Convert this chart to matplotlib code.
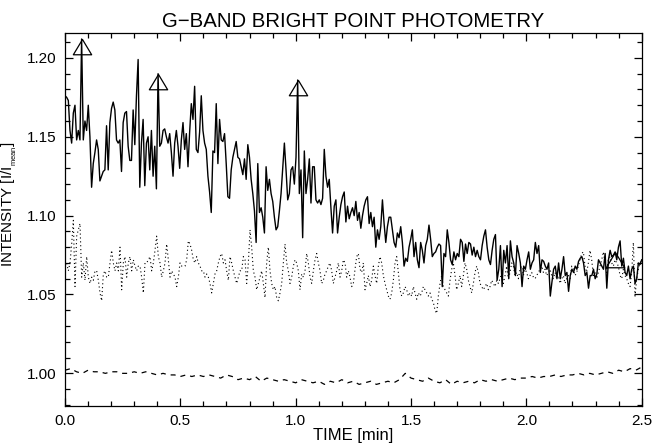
import numpy as np
import matplotlib
matplotlib.use("Agg")
import matplotlib.pyplot as plt
from matplotlib.path import Path

# bright point intensity (solid), reference area (dotted), mean (dashed)
bp_intensity = [
    1.176, 1.175, 1.173, 1.154, 1.146, 1.165, 1.170, 1.148, 1.154, 1.148,
    1.212, 1.148, 1.160, 1.154, 1.170, 1.150, 1.118, 1.133, 1.140, 1.148,
    1.142, 1.122, 1.125, 1.128, 1.129, 1.157, 1.129, 1.159, 1.168, 1.172,
    1.167, 1.148, 1.146, 1.148, 1.128, 1.159, 1.165, 1.166, 1.144, 1.135,
    1.135, 1.167, 1.145, 1.176, 1.199, 1.118, 1.146, 1.161, 1.119, 1.146,
    1.150, 1.129, 1.154, 1.125, 1.144, 1.117, 1.190, 1.144, 1.146, 1.154,
    1.155, 1.150, 1.146, 1.152, 1.140, 1.125, 1.146, 1.154, 1.144, 1.130,
    1.148, 1.159, 1.142, 1.152, 1.131, 1.153, 1.171, 1.161, 1.182, 1.142,
    1.140, 1.153, 1.176, 1.154, 1.146,
    1.142, 1.125, 1.115, 1.102, 1.141, 1.140, 1.171, 1.133, 1.161, 1.148,
    1.147, 1.152, 1.133, 1.112, 1.111, 1.129, 1.137, 1.142, 1.147, 1.137,
    1.136, 1.131, 1.126, 1.136, 1.123, 1.145, 1.137, 1.123, 1.114, 1.103,
    1.083, 1.133, 1.102, 1.105, 1.099, 1.089, 1.131, 1.116, 1.123, 1.114,
    1.109, 1.099, 1.091, 1.093, 1.103, 1.114, 1.130, 1.146, 1.129, 1.110,
    1.114, 1.129, 1.131, 1.120, 1.137, 1.186, 1.114, 1.129, 1.086, 1.141,
    1.114, 1.123, 1.136, 1.108, 1.131, 1.131, 1.110, 1.108, 1.110, 1.107,
    1.111, 1.142, 1.125, 1.118, 1.123, 1.105, 1.089, 1.106, 1.110, 1.089,
    1.099, 1.107, 1.112, 1.115, 1.096, 1.106, 1.098, 1.102, 1.105,
    1.100, 1.109, 1.097, 1.102, 1.092, 1.100, 1.106, 1.110, 1.112, 1.095,
    1.102, 1.093, 1.099, 1.080, 1.091, 1.085, 1.093, 1.110, 1.095, 1.083,
    1.093, 1.099, 1.099, 1.091, 1.083, 1.080, 1.089, 1.086, 1.093, 1.083,
    1.068, 1.073, 1.071, 1.080, 1.085, 1.091, 1.074, 1.083, 1.072, 1.067,
    1.083, 1.078, 1.070, 1.081, 1.085, 1.094, 1.085, 1.074, 1.076, 1.077,
    1.080, 1.082, 1.081, 1.055, 1.076, 1.074, 1.091, 1.083, 1.072, 1.069,
    1.077, 1.072, 1.076, 1.074, 1.085, 1.083, 1.071, 1.082, 1.076, 1.083,
    1.082, 1.075, 1.080, 1.074, 1.078, 1.074, 1.072, 1.081, 1.087, 1.091,
    1.080, 1.072, 1.069, 1.078, 1.085, 1.088, 1.059, 1.066,
    1.081, 1.055, 1.078, 1.070, 1.081, 1.060, 1.084, 1.074, 1.070, 1.062,
    1.081, 1.076, 1.070, 1.055, 1.068, 1.066, 1.072, 1.077, 1.066, 1.070,
    1.072, 1.083, 1.076, 1.081, 1.064, 1.072, 1.071, 1.068, 1.066, 1.070,
    1.049, 1.058, 1.066, 1.068, 1.060, 1.070, 1.060, 1.066, 1.074, 1.062,
    1.064, 1.052, 1.062, 1.066, 1.064, 1.068, 1.066, 1.071, 1.073, 1.074,
    1.070, 1.062, 1.064, 1.054, 1.062, 1.062, 1.066, 1.060, 1.063, 1.072,
    1.070, 1.068, 1.066, 1.076, 1.054, 1.072, 1.078, 1.074, 1.075, 1.077,
    1.072, 1.080, 1.084, 1.068, 1.073, 1.064, 1.062, 1.068, 1.060, 1.066,
    1.068, 1.057, 1.060, 1.070, 1.069, 1.072,
]

ref_intensity = [
    1.072, 1.070, 1.065, 1.070, 1.082, 1.097, 1.055, 1.087, 1.091, 1.095,
    1.061, 1.070, 1.059, 1.074, 1.061, 1.057, 1.061, 1.059, 1.065, 1.065,
    1.059, 1.051, 1.046, 1.063, 1.065, 1.061, 1.061, 1.070, 1.078, 1.070,
    1.065, 1.070, 1.065, 1.080, 1.053, 1.070, 1.074, 1.061, 1.070, 1.074,
    1.065, 1.072, 1.068, 1.065, 1.068, 1.068, 1.061, 1.051, 1.070, 1.070,
    1.072, 1.074, 1.065, 1.070, 1.078, 1.087, 1.074, 1.070, 1.061, 1.065,
    1.070, 1.082, 1.072, 1.061, 1.065, 1.063, 1.061, 1.055, 1.061, 1.070,
    1.068, 1.068, 1.068, 1.072, 1.084, 1.082, 1.078, 1.072, 1.070, 1.074,
    1.070, 1.068, 1.065, 1.065, 1.061, 1.063,
    1.061, 1.057, 1.051, 1.057, 1.063, 1.065, 1.070, 1.074, 1.076, 1.070,
    1.072, 1.065, 1.059, 1.074, 1.070, 1.065, 1.061, 1.057, 1.061, 1.065,
    1.065, 1.074, 1.072, 1.057, 1.070, 1.091, 1.080, 1.065, 1.061, 1.053,
    1.057, 1.061, 1.065, 1.057, 1.048, 1.070, 1.080, 1.065, 1.057, 1.053,
    1.055, 1.048, 1.046, 1.051, 1.057, 1.070, 1.082, 1.070, 1.065, 1.057,
    1.061, 1.068, 1.072, 1.070, 1.065, 1.053, 1.063, 1.061, 1.065, 1.076,
    1.070, 1.061, 1.057, 1.065, 1.072, 1.076, 1.070, 1.065, 1.057, 1.059,
    1.063, 1.065, 1.068, 1.070, 1.065, 1.057, 1.061, 1.065, 1.070, 1.061,
    1.065, 1.072, 1.070, 1.061, 1.065, 1.061, 1.055,
    1.057, 1.066, 1.074, 1.076, 1.066, 1.064, 1.070, 1.053, 1.057, 1.062,
    1.055, 1.059, 1.068, 1.062, 1.057, 1.068, 1.074, 1.070, 1.062, 1.057,
    1.053, 1.049, 1.047, 1.051, 1.059, 1.070, 1.074, 1.064, 1.053, 1.049,
    1.051, 1.055, 1.053, 1.049, 1.051, 1.049, 1.055, 1.051, 1.047, 1.051,
    1.049, 1.051, 1.055, 1.053, 1.051, 1.049, 1.051, 1.047, 1.045, 1.040,
    1.038, 1.049, 1.057, 1.062, 1.055, 1.053, 1.051, 1.049, 1.059, 1.066,
    1.070, 1.062, 1.053, 1.057, 1.062, 1.055, 1.062, 1.070, 1.066, 1.059,
    1.055, 1.051, 1.057, 1.064, 1.068, 1.064, 1.057, 1.055, 1.053, 1.055,
    1.057, 1.053, 1.055, 1.059, 1.057, 1.055, 1.059, 1.057,
    1.060, 1.064, 1.057, 1.062, 1.068, 1.060, 1.064, 1.070, 1.068, 1.062,
    1.064, 1.060, 1.066, 1.068, 1.062, 1.066, 1.064, 1.060, 1.062, 1.064,
    1.061, 1.060, 1.062, 1.064, 1.066, 1.068, 1.064, 1.066, 1.062, 1.064,
    1.066, 1.062, 1.060, 1.064, 1.060, 1.062, 1.057, 1.060, 1.062, 1.057,
    1.060, 1.062, 1.060, 1.068, 1.066, 1.062, 1.064, 1.068, 1.072, 1.076,
    1.077, 1.068, 1.064, 1.070, 1.078, 1.072, 1.062, 1.064, 1.060, 1.064,
    1.068, 1.072, 1.077, 1.070, 1.064, 1.072, 1.074, 1.070, 1.068, 1.072,
    1.070, 1.068, 1.062, 1.060, 1.066, 1.062, 1.060, 1.057, 1.055, 1.064,
    1.083, 1.049, 1.060, 1.066, 1.070, 1.072,
]

mean_intensity = [
    1.002, 1.003, 1.001, 1.000, 1.002, 1.001, 1.001, 1.000, 1.001, 1.001,
    1.000, 1.000, 1.001, 1.000, 1.001, 1.000, 0.999, 1.000, 0.999, 0.999,
    0.998, 0.999, 0.998, 0.999, 0.998, 0.999, 0.998, 0.997, 0.999, 0.998,
    0.996, 0.997, 0.996, 0.998, 0.995, 0.997, 0.996, 0.995, 0.996, 0.995,
    0.994, 0.996, 0.995, 0.994, 0.995, 0.993, 0.995, 0.994, 0.996, 0.994,
    0.995, 0.993, 0.994, 0.995, 0.993, 0.994, 0.995, 0.994, 0.996, 1.000,
    0.997, 0.996, 0.995, 0.997, 0.995, 0.994, 0.996, 0.993, 0.995, 0.994,
    0.995, 0.994, 0.996, 0.995, 0.996, 0.995, 0.996, 0.997, 0.996, 0.997,
    0.997, 0.998, 0.997, 0.998, 0.998, 0.999, 0.998, 0.999, 0.999, 1.000,
    0.999, 1.000, 0.999, 1.000, 1.001, 1.000, 1.002, 1.001, 1.003, 1.002,
    1.004,
]

# approximate times of the marked intensity peaks [min]
peak_times = [0.072, 0.405, 1.01, 2.385]

t_bp = np.linspace(0, 2.5, len(bp_intensity))
t_ref = np.linspace(0, 2.5, len(ref_intensity))
t_mean = np.linspace(0, 2.5, len(mean_intensity))
bp = np.array(bp_intensity)

peak_idx = []
for tp in peak_times:
    win = np.where(np.abs(t_bp - tp) < 0.01)[0]
    peak_idx.append(win[np.argmax(bp[win])])

plt.rcParams['font.family'] = ['Liberation Sans', 'DejaVu Sans']
plt.rcParams['mathtext.fontset'] = 'custom'
plt.rcParams['mathtext.rm'] = 'Liberation Sans'

fig = plt.figure(figsize=(6.56, 4.46), dpi=100)
ax = fig.add_axes([65 / 656, 1 - 406 / 446, 576.7 / 656, 373 / 446])

ax.plot(t_bp, bp_intensity, color='black', lw=1.0)
ax.plot(t_ref, ref_intensity, color='black', lw=0.8, linestyle=(0, (1, 2.5)))
ax.plot(t_mean, mean_intensity, color='black', lw=0.9, linestyle=(0, (4, 4)))

# open triangle with its apex on the data point
tri = Path([(-0.6, -1.0), (0.6, -1.0), (0.0, 0.0), (-0.6, -1.0)],
           [Path.MOVETO, Path.LINETO, Path.LINETO, Path.CLOSEPOLY])
ax.plot(t_bp[peak_idx], bp[peak_idx], linestyle='none', marker=tri,
        markersize=22, markerfacecolor='none', markeredgecolor='black',
        markeredgewidth=0.9)

ax.set_xlim(0, 2.5)
ax.set_ylim(0.9793, 1.2158)
ax.set_xticks(np.arange(0, 2.51, 0.5))
ax.set_xticks(np.arange(0, 2.51, 0.1), minor=True)
ax.set_yticks(np.arange(1.0, 1.201, 0.05))
ax.set_yticks(np.arange(0.98, 1.216, 0.01), minor=True)
ax.xaxis.set_major_formatter(matplotlib.ticker.FormatStrFormatter('%.1f'))
ax.yaxis.set_major_formatter(matplotlib.ticker.FormatStrFormatter('%.2f'))
ax.tick_params(which='both', direction='in', top=True, right=True, width=0.9,
               labelsize=11, pad=6)
ax.tick_params(which='major', length=6)
ax.tick_params(which='minor', length=3.5)
for sp in ax.spines.values():
    sp.set_linewidth(0.9)

ax.set_title('G\u2212BAND BRIGHT POINT PHOTOMETRY', fontsize=14.7, pad=4.5)
ax.set_xlabel('TIME [min]', fontsize=12, labelpad=0)
ax.set_ylabel(r'INTENSITY [I/I$_{_{\rm mean}}$]', fontsize=11)
ax.yaxis.set_label_coords(-0.08, 0.54)

fig.savefig('out.png', dpi=100)
